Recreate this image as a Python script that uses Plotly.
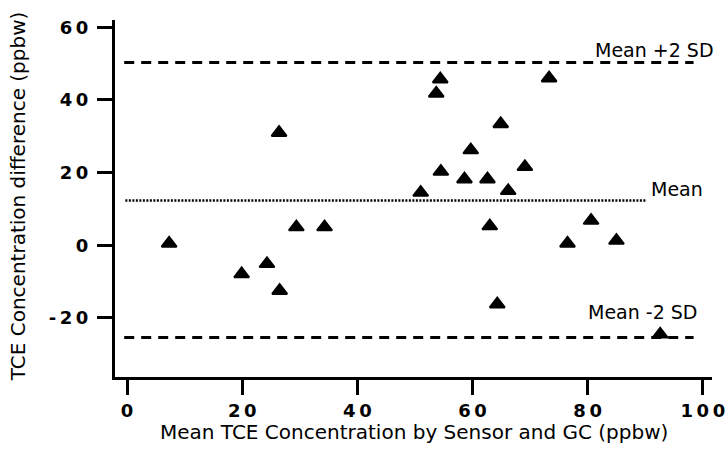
import plotly.graph_objects as go

# Data
mean_conc = [7.3, 19.9, 24.3, 26.5, 26.4, 29.4, 34.3,
             51.0, 54.4, 53.7, 54.5, 58.6, 59.7, 62.6, 64.9, 66.2, 69.1,
             73.3, 63.0, 64.3, 76.5, 80.6, 85.0, 92.6]
conc_diff = [0.5, -7.9, -5.1, -12.5, 31.0, 5.0, 5.0,
             14.5, 45.7, 41.8, 20.3, 18.2, 26.2, 18.2, 33.4, 15.0, 21.6,
             46.0, 5.3, -16.2, 0.5, 6.8, 1.3, -24.5]

mean_line_value = 12.3
upper_line_value = 50.3
lower_line_value = -25.4
mean_line_x = [-0.3, 90.3]
sd_line_x = [-0.5, 98.4]

x_tick_vals = [0, 20, 40, 60, 80, 100]
x_tick_text = ["0", "2\u20090", "4\u20090", "6\u20090", "8\u20090", "1\u20090\u20090"]
y_tick_vals = [-20, 0, 20, 40, 60]
y_tick_text = ["-\u20092\u20090", "0", "2\u20090", "4\u20090", "6\u20090"]

x_title = "Mean TCE Concentration by Sensor and GC (ppbw)"
y_title = "TCE Concentration difference (ppbw)"
label_upper = "Mean +2 SD"
label_mean = "Mean"
label_lower = "Mean -2 SD"

FONT = "DejaVu Sans, Liberation Sans, Arial, sans-serif"

fig = go.Figure()

fig.add_trace(go.Scatter(
    x=sd_line_x, y=[upper_line_value] * 2, mode="lines",
    line=dict(color="black", width=3, dash="10px,7px"), hoverinfo="skip"))
fig.add_trace(go.Scatter(
    x=sd_line_x, y=[lower_line_value] * 2, mode="lines",
    line=dict(color="black", width=3, dash="10px,7px"), hoverinfo="skip"))
fig.add_trace(go.Scatter(
    x=mean_line_x, y=[mean_line_value] * 2, mode="lines",
    line=dict(color="black", width=2.5, dash="2px,1.5px"), hoverinfo="skip"))

fig.add_trace(go.Scatter(
    x=mean_conc, y=conc_diff, mode="markers",
    marker=dict(symbol="triangle-up", size=13, color="black",
                line=dict(color="black", width=2))))

ann_font = dict(family=FONT, size=19, color="black")
fig.add_annotation(x=81.0, y=53.8, text=label_upper, showarrow=False,
                   xanchor="left", yanchor="middle", font=ann_font)
fig.add_annotation(x=90.6, y=15.4, text=label_mean, showarrow=False,
                   xanchor="left", yanchor="middle", font=ann_font)
fig.add_annotation(x=79.7, y=-18.3, text=label_lower, showarrow=False,
                   xanchor="left", yanchor="middle", font=ann_font)

# axis titles
fig.add_annotation(xref="paper", yref="paper", x=0.5, y=-0.153,
                   text=x_title, showarrow=False, xanchor="center",
                   yanchor="middle", font=dict(family=FONT, size=20, color="black"))
fig.add_annotation(xref="paper", yref="paper", x=-0.162, y=0.507,
                   text=y_title, showarrow=False, xanchor="center",
                   yanchor="middle", textangle=-90,
                   font=dict(family=FONT, size=20, color="black"))

fig.update_layout(
    width=725, height=454,
    margin=dict(l=115, r=13, t=20, b=77),
    paper_bgcolor="white", plot_bgcolor="white",
    showlegend=False,
    font=dict(family=FONT, color="black"),
    xaxis=dict(range=[-2.1, 101.6], tickvals=x_tick_vals, ticktext=x_tick_text,
               showgrid=False, zeroline=False, showline=True, linecolor="black",
               linewidth=3, ticks="outside", ticklen=15, tickwidth=3,
               tickcolor="black", ticklabeloverflow="allow", automargin=False,
               tickfont=dict(family=FONT, size=18, color="black", weight="bold")),
    yaxis=dict(range=[-36.25, 62.0], tickvals=y_tick_vals, ticktext=y_tick_text,
               showgrid=False, zeroline=False, showline=True, linecolor="black",
               linewidth=3, ticks="outside", ticklen=15, tickwidth=3,
               tickcolor="black", ticklabelstandoff=5, ticklabeloverflow="allow",
               automargin=False,
               tickfont=dict(family=FONT, size=18, color="black", weight="bold")),
)

fig.write_html("out.html")
